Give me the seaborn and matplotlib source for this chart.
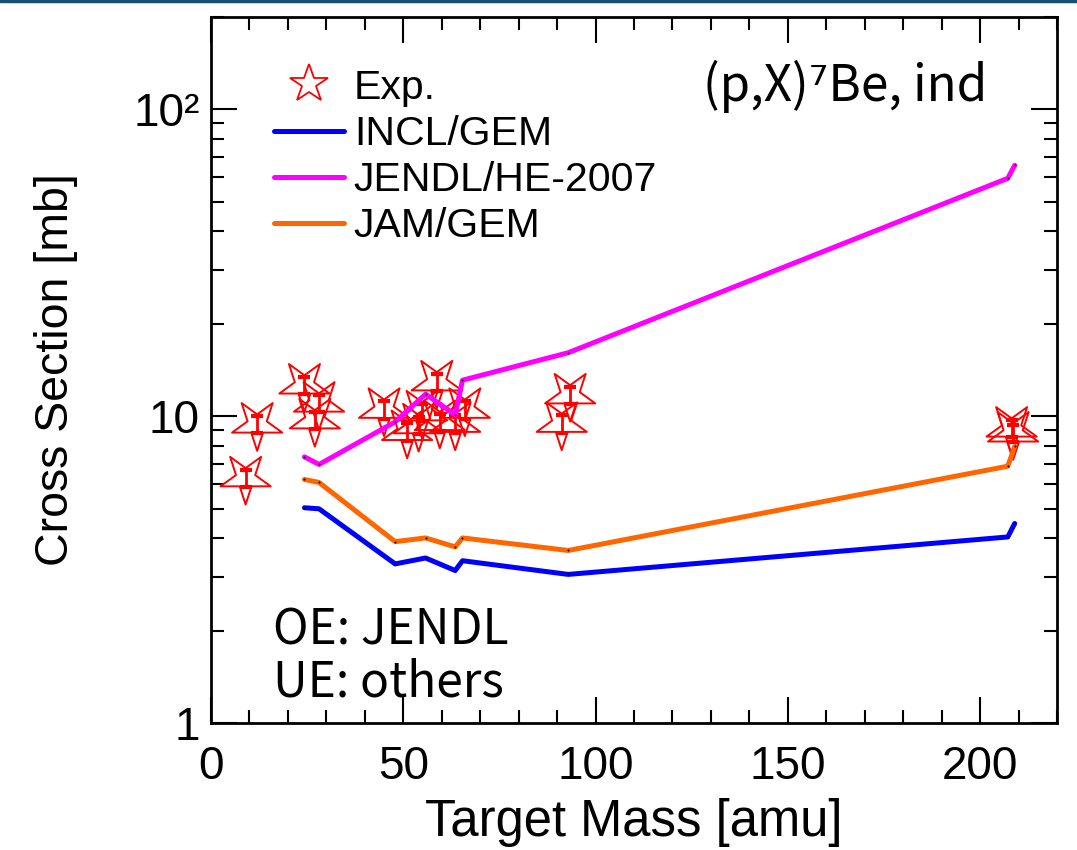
import numpy as np
import pandas as pd
import matplotlib
matplotlib.use("Agg")
import matplotlib.pyplot as plt
import seaborn as sns
from matplotlib.path import Path
from matplotlib.lines import Line2D
from matplotlib.ticker import FixedLocator, FixedFormatter, MultipleLocator, NullFormatter

# ---------------- data ----------------
mass_model = [24.3, 28.1, 47.9, 55.8, 63.5, 65.4, 92.9, 207.2, 209.0]
incl_gem = [5.03, 4.99, 3.30, 3.45, 3.14, 3.38, 3.05, 4.04, 4.47]
jendl_he = [7.37, 6.96, 9.58, 11.8, 10.1, 13.1, 16.1, 59.6, 65.7]
jam_gem = [6.22, 6.08, 3.90, 4.01, 3.75, 4.01, 3.65, 6.87, 7.97]

exp_mass = [9.0, 12.0, 24.3, 27.0, 28.1, 45.0, 51.0, 54.0, 54.9, 58.7, 59.5, 63.5, 66.0, 91.2, 93.4, 208.2, 208.6]
exp_xs = [6.28, 9.4, 12.6, 9.7, 11.0, 10.5, 8.89, 9.35, 10.3, 12.9, 9.58, 9.45, 10.5, 9.45, 11.7, 9.12, 8.79]
exp_relerr = 0.065

series_names = ["INCL/GEM", "JENDL/HE-2007", "JAM/GEM"]
series_colors = ["#0000ff", "#ff00ff", "#ff6600"]

y_ticks = [1, 10, 100]
y_ticklabels = ["1", "10", "10²"]
x_ticks = [0, 50, 100, 150, 200]

# ---------------- figure ----------------
sns.set_style("ticks")
plt.rcParams["font.family"] = ["Liberation Sans", "DejaVu Sans"]
for k in ["text.color", "axes.labelcolor", "xtick.color", "ytick.color", "axes.edgecolor"]:
    plt.rcParams[k] = "black"

fig = plt.figure(figsize=(10.77, 8.5), dpi=100)
ax = fig.add_axes([211 / 1077, 1 - 723 / 850, 846 / 1077, 706 / 850])

df = pd.DataFrame({
    "mass": mass_model * 3,
    "xs": incl_gem + jendl_he + jam_gem,
    "model": sum([[n] * len(mass_model) for n in series_names], []),
})
sns.lineplot(data=df, x="mass", y="xs", hue="model", palette=dict(zip(series_names, series_colors)),
             hue_order=series_names, linewidth=3.6, sort=False, legend=False, ax=ax, zorder=3)
# tiny black dots at calculation points
sns.scatterplot(x=df["mass"], y=df["xs"], color="black", s=2, linewidth=0, ax=ax, zorder=4, legend=False)

# inverted open star marker
star = Path.unit_regular_star(5, 0.381966)
inv_star = Path(star.vertices * np.array([1, -1]), star.codes)

exp_err = [v * exp_relerr for v in exp_xs]
ax.errorbar(exp_mass, exp_xs, yerr=exp_err, fmt="none", ecolor="red", elinewidth=2.0,
            capsize=4, capthick=3, zorder=2)
sns.scatterplot(x=exp_mass, y=exp_xs, marker=inv_star, s=38 ** 2, facecolors="none",
                edgecolors="red", linewidths=1.4, ax=ax, zorder=2, legend=False)

ax.set_yscale("log")
ax.set_xlim(0, 220)
ax.set_ylim(1, 200)

ax.xaxis.set_major_locator(FixedLocator(x_ticks))
ax.xaxis.set_minor_locator(MultipleLocator(10))
ax.yaxis.set_major_locator(FixedLocator(y_ticks))
ax.yaxis.set_major_formatter(FixedFormatter(y_ticklabels))
ax.yaxis.set_minor_locator(FixedLocator([m * 10 ** e for e in range(0, 3) for m in range(2, 10)]))
ax.yaxis.set_minor_formatter(NullFormatter())

ax.tick_params(which="both", direction="in", top=True, right=True, width=1.5, color="black",
               labelsize=33, labelcolor="black")
ax.tick_params(axis="x", which="major", pad=16)
ax.tick_params(axis="y", which="major", pad=8)
ax.tick_params(which="major", length=19)
ax.tick_params(which="minor", length=9.5)
for sp in ax.spines.values():
    sp.set_linewidth(2)
    sp.set_color("black")

ax.set_xlabel("Target Mass [amu]", fontsize=36.5, labelpad=6)
ax.set_ylabel("Cross Section [mb]", fontsize=33.5, labelpad=40)

# legend
handles = [Line2D([], [], marker="*", markersize=29, markerfacecolor="none", markeredgecolor="red",
                  markeredgewidth=1.3, linestyle="none")]
for c in series_colors:
    handles.append(Line2D([], [], color=c, linewidth=3.6))
ax.legend(handles, ["Exp."] + series_names, loc="upper left", bbox_to_anchor=(0.055, 0.95),
          frameon=False, fontsize=29.5, handlelength=1.7, handletextpad=0.25, labelspacing=0.2,
          borderaxespad=0)

cjk = ["Noto Sans CJK JP", "DejaVu Sans"]
ax.text(0.918, 0.902, "(p,X)⁷Be, ind", transform=ax.transAxes, ha="right", va="center",
        fontsize=35.5, family=cjk)
ax.text(0.0733, 0.130, "OE: JENDL", transform=ax.transAxes, ha="left", va="center",
        fontsize=34.5, family=cjk)
ax.text(0.0733, 0.0567, "UE: others", transform=ax.transAxes, ha="left", va="center",
        fontsize=34.5, family=cjk)

# header rule of the slide
fig.add_artist(Line2D([0, 1], [0.999, 0.999], color="#1b4f72", linewidth=2.5, transform=fig.transFigure))

fig.savefig("out.png", dpi=100)
